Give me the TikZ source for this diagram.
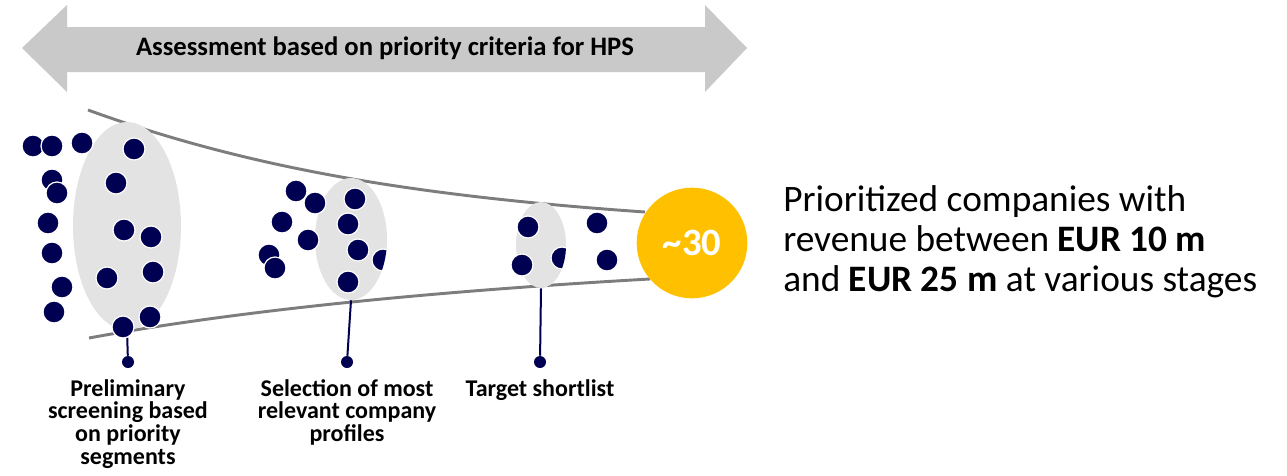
\documentclass[tikz,border=0pt]{standalone}
\usepackage{fontspec}
\setmainfont{Carlito}
\usetikzlibrary{shapes.geometric,positioning}

\definecolor{navy}{RGB}{0,0,82}
\definecolor{funnelgray}{RGB}{125,125,125}
\definecolor{arrowgray}{RGB}{201,201,201}
\definecolor{blobgray}{RGB}{227,227,227}
\definecolor{gold}{RGB}{255,192,0}

\begin{document}
\begin{tikzpicture}[x=0.75pt,y=-0.75pt,
  dot/.style={circle,fill=navy,draw=white,line width=0.9pt,inner sep=0pt,minimum size=16.5pt},
  blob/.style={ellipse,fill=blobgray,draw=none,inner sep=0pt},
  pin/.style={circle,fill=navy,inner sep=0pt,minimum size=9pt},
  stem/.style={navy,line width=1.5pt},
  funnel/.style={funnelgray,line width=2.2pt},
  phase/.style={font=\bfseries\fontsize{18}{17}\selectfont,align=center,inner sep=0pt,below=8pt of #1},
]
\useasboundingbox (0,0) rectangle (1287,475);

\fill[arrowgray] (22,48) -- (67,5) -- (67,27) -- (705,27) -- (705,5) -- (747,48)
  -- (705,92) -- (705,72) -- (67,72) -- (67,92) -- cycle;
\node[font=\bfseries\fontsize{20}{22}\selectfont] (criteria) at (385,48) {Assessment based on priority criteria for HPS};

\draw[funnel] (88,110) .. controls (240,165) and (400,195) .. (645,212);
\draw[funnel] (89,338) .. controls (230,312) and (420,292) .. (650,279);

\node[blob,minimum width=81pt,minimum height=156pt] (seg1) at (127,226) {};
\node[blob,minimum width=54pt,minimum height=91.5pt] (seg2) at (351,239) {};
\node[blob,minimum width=37.5pt,minimum height=64.5pt] (seg3) at (541,245) {};

\node[pin] (pin1) at (128,362) {};
\node[pin] (pin2) at (347,362) {};
\node[pin] (pin3) at (540,362) {};
\draw[stem] (seg1.south) -- (pin1);
\draw[stem] (seg2.south) -- (pin2);
\draw[stem] (seg3.south) -- (pin3);

\foreach \x/\y [count=\i] in {33/146,52/146,82/143,134/149,52/180,57/193,116/183,48/223,
    124/230,151/237,52/253,153/272,62/287,107/278,54/312,150/317,123/327,
    296/191,315/203,355/199,282/222,348/224,308/240,358/250,269/255,275/268,348/282,
    528/227,597/223,522/265,607/260}
  \node[dot] (co-\i) at (\x,\y) {};

\begin{scope}
  \clip (351,239) ellipse [x radius=36,y radius=61];
  \node[dot] (co-32) at (383,260) {};
\end{scope}
\begin{scope}
  \clip (541,245) ellipse [x radius=25,y radius=43];
  \node[dot] (co-33) at (562,258) {};
\end{scope}

\node[circle,fill=gold,minimum size=83pt,inner sep=0pt,text=white,
  font=\bfseries\fontsize{29}{30}\selectfont] (count) at (692,243) {\textasciitilde30};

\node[phase=pin1] (lbl1) {Preliminary\\screening based\\on priority\\segments};
\node[phase=pin2] (lbl2) {Selection of most\\relevant company\\profiles};
\node[phase=pin3] (lbl3) {Target shortlist};

\node[anchor=west,align=left,inner sep=0pt,font=\fontsize{28}{30}\selectfont] (result) at (783,242)
  {Prioritized companies with\\revenue between \textbf{EUR 10 m}\\and \textbf{EUR 25 m} at various stages};
\end{tikzpicture}
\end{document}
